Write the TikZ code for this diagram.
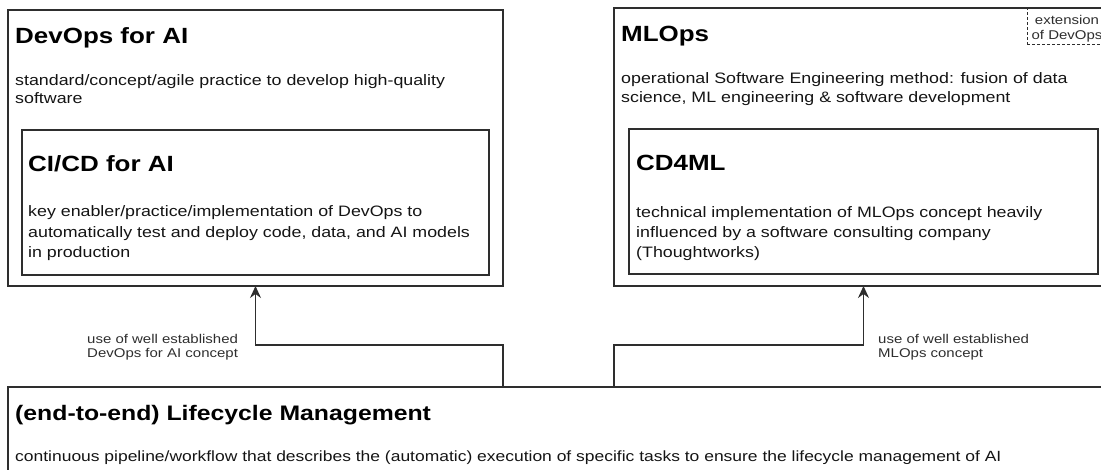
\documentclass[tikz,border=0pt]{standalone}
\usepackage{fontspec}
\setmainfont{Liberation Sans}[FakeStretch=1.18]
\usetikzlibrary{arrows.meta}
\definecolor{ink}{HTML}{141414}
\definecolor{edge}{HTML}{2E2E2E}
\tikzset{
  x=1pt, y=-1pt,
  frame/.style={draw=edge, line width=1.4pt, inner sep=0pt, outer sep=0pt, anchor=north west},
  dashframe/.style={frame, line width=1pt, dash pattern=on 3pt off 2pt},
  head/.style={inner sep=0pt, anchor=base west, font=\fontsize{22}{26}\selectfont\bfseries, text=black},
  body/.style={inner sep=0pt, anchor=base west, font=\fontsize{15.1}{18}\selectfont, text=ink},
  note/.style={inner sep=0pt, anchor=base west, font=\fontsize{12.7}{14}\selectfont, text=edge},
  link/.style={draw=edge, line width=1.4pt, -{Stealth[length=12pt,width=11pt,inset=4pt]}},
}
\begin{document}
\begin{tikzpicture}
\useasboundingbox (0,0) rectangle (1101,469);
\clip (0,0) rectangle (1101,469);

% frames
\node[frame, minimum width=495pt, minimum height=276pt] (devops) at (8,10) {};
\node[frame, minimum width=467pt, minimum height=145pt] (cicd) at (22,130) {};
\node[frame, minimum width=499pt, minimum height=278pt] (mlops) at (614,8) {};
\node[frame, minimum width=469pt, minimum height=145pt] (cdml) at (629,129) {};
\node[dashframe, minimum width=90pt, minimum height=36pt] (ext) at (1027,8) {};
\node[frame, minimum width=1105pt, minimum height=120pt] (life) at (8,387) {};

% DevOps for AI
\node[head] (devopsT) at (15,43) {DevOps for AI};
\node[body] (devopsA) at (15,85) {standard/concept/agile practice to develop high-quality};
\node[body] (devopsB) at (15,103) {software};

% CI/CD for AI
\node[head] (cicdT) at (28,171.5) {CI/CD for AI};
\node[body] (cicdA) at (28,216.5) {key enabler/practice/implementation of DevOps to};
\node[body] (cicdB) at (28,237) {automatically test and deploy code, data, and AI models};
\node[body] (cicdC) at (28,257.3) {in production};

% MLOps
\node[head] (mlopsT) at (621,41.7) {MLOps};
\node[body] (mlopsA) at (621,83.3) {operational Software Engineering method: fusion of data};
\node[body] (mlopsB) at (621,102.3) {science, ML engineering \& software development};
\node[note, anchor=base] (extA) at (1067,24) {extension};
\node[note, anchor=base] (extB) at (1067,39.3) {of DevOps};

% CD4ML
\node[head] (cdmlT) at (636,170.7) {CD4ML};
\node[body] (cdmlA) at (636,217) {technical implementation of MLOps concept heavily};
\node[body] (cdmlB) at (636,237.3) {influenced by a software consulting company};
\node[body] (cdmlC) at (636,257.7) {(Thoughtworks)};

% Lifecycle management
\node[head, font=\fontsize{21}{25}\selectfont\bfseries] (lifeT) at (15,420) {(end-to-end) Lifecycle Management};
\node[body, font=\fontsize{14.8}{18}\selectfont] (lifeA) at (15,461.7) {continuous pipeline/workflow that describes the (automatic) execution of specific tasks to ensure the lifecycle management of AI};

% connectors
\draw[link] (life.north -| devops.east) -- (devops.east |- 0,345) -- (devops.south |- 0,345) -- (devops.south);
\draw[link] (life.north -| mlops.west) -- (mlops.west |- 0,345) -- (mlops.south |- 0,345) -- (mlops.south);

% connector labels
\node[note] (useA) at (87,343) {use of well established};
\node[note] (useB) at (87,357) {DevOps for AI concept};
\node[note] (useC) at (878,343) {use of well established};
\node[note] (useD) at (878,357) {MLOps concept};
\end{tikzpicture}
\end{document}
